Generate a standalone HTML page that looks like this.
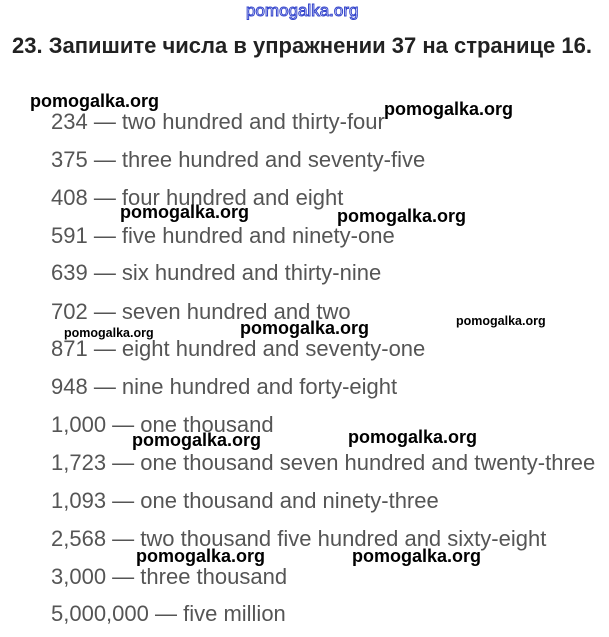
<!DOCTYPE html>
<html><head><meta charset="utf-8"><style>
body{margin:0;width:609px;height:637px;background:#fff;position:relative;overflow:hidden;font-family:"Liberation Sans",sans-serif}
.t{position:absolute;white-space:nowrap}
.l{position:absolute;left:51px;font-size:22px;color:#555;white-space:nowrap;line-height:1}
.w{position:absolute;font-weight:bold;font-size:18px;color:#000;white-space:nowrap;line-height:1;font-family:"Liberation Sans",sans-serif}
.s{font-size:12.5px}
</style></head><body>
<div class="t" style="left:246px;top:2px;font-size:17px;color:#fff;-webkit-text-stroke:1px #3344cc;line-height:1">pomogalka.org</div>
<div class="t" style="left:12px;top:35px;font-size:22px;font-weight:bold;color:#222;line-height:1">23. Запишите числа в упражнении 37 на странице 16.</div>
<div class="l" style="top:111px">234 — two hundred and thirty-four</div>
<div class="l" style="top:149px">375 — three hundred and seventy-five</div>
<div class="l" style="top:187px">408 — four hundred and eight</div>
<div class="l" style="top:225px">591 — five hundred and ninety-one</div>
<div class="l" style="top:262px">639 — six hundred and thirty-nine</div>
<div class="l" style="top:301px">702 — seven hundred and two</div>
<div class="l" style="top:338px">871 — eight hundred and seventy-one</div>
<div class="l" style="top:376px">948 — nine hundred and forty-eight</div>
<div class="l" style="top:414px">1,000 — one thousand</div>
<div class="l" style="top:452px">1,723 — one thousand seven hundred and twenty-three</div>
<div class="l" style="top:490px">1,093 — one thousand and ninety-three</div>
<div class="l" style="top:528px">2,568 — two thousand five hundred and sixty-eight</div>
<div class="l" style="top:566px">3,000 — three thousand</div>
<div class="l" style="top:603px">5,000,000 — five million</div>
<div class="w" style="left:30px;top:92px">pomogalka.org</div>
<div class="w" style="left:384px;top:100px">pomogalka.org</div>
<div class="w" style="left:120px;top:203px">pomogalka.org</div>
<div class="w" style="left:337px;top:207px">pomogalka.org</div>
<div class="w s" style="left:64px;top:327px">pomogalka.org</div>
<div class="w" style="left:240px;top:319px">pomogalka.org</div>
<div class="w s" style="left:456px;top:315px">pomogalka.org</div>
<div class="w" style="left:132px;top:431px">pomogalka.org</div>
<div class="w" style="left:348px;top:428px">pomogalka.org</div>
<div class="w" style="left:136px;top:547px">pomogalka.org</div>
<div class="w" style="left:352px;top:547px">pomogalka.org</div>
</body></html>
